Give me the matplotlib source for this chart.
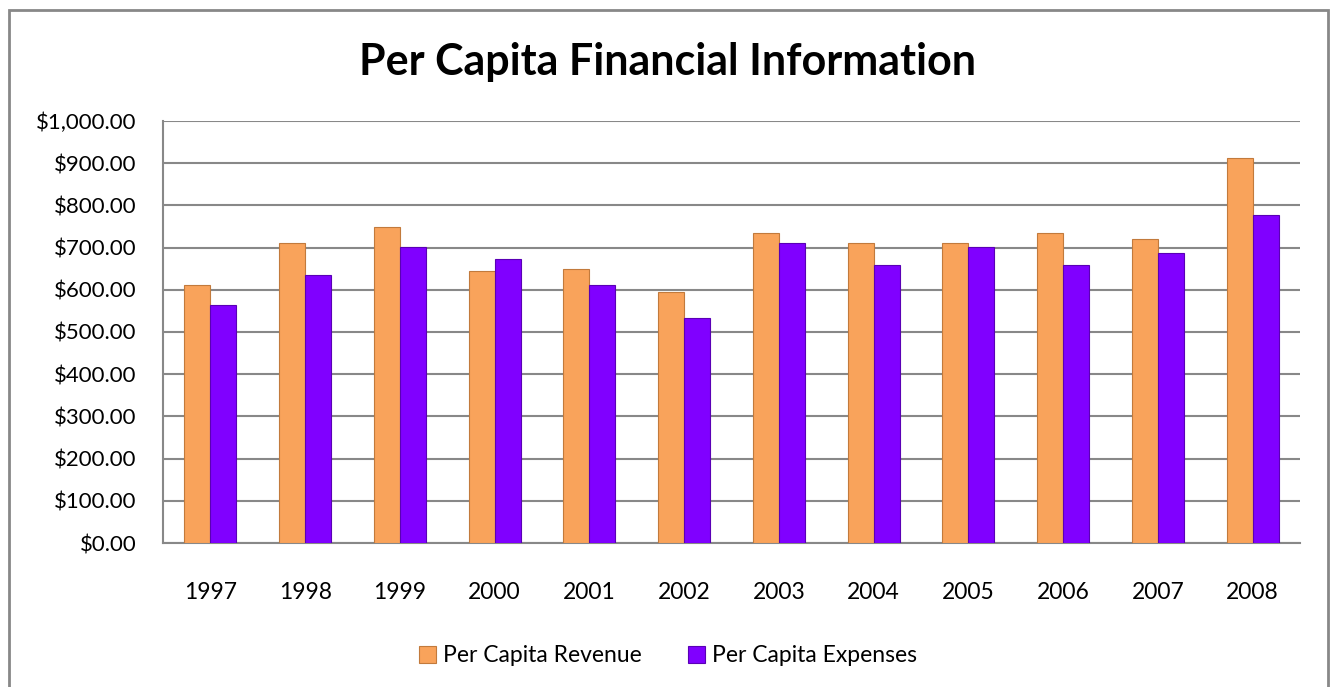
"""Per capita revenue vs expenses, 1997-2008 (grouped bars)."""

import matplotlib
matplotlib.use("Agg")
import matplotlib.pyplot as plt
import numpy as np
from matplotlib.patches import Rectangle
from matplotlib.ticker import FuncFormatter

years = ["1997", "1998", "1999", "2000", "2001", "2002",
         "2003", "2004", "2005", "2006", "2007", "2008"]
revenue = [611, 710, 749, 644, 649, 595, 734, 710, 710, 734, 721, 912]
expenses = [563, 635, 702, 673, 611, 533, 711, 659, 702, 659, 687, 778]

ORANGE = "#F9A35B"
ORANGE_EDGE = "#C27A3C"
PURPLE = "#8000FF"
PURPLE_EDGE = "#5A00B5"
GRID = "#888888"

plt.rcParams["font.family"] = ["Lato", "DejaVu Sans"]

fig = plt.figure(figsize=(13.35, 6.87), dpi=100)
ax = fig.add_axes([163 / 1335, 1 - 543 / 687, (1300 - 163) / 1335, (543 - 121) / 687])

x = np.arange(len(years))
w = 0.275
ax.bar(x - w / 2, revenue, w, color=ORANGE, edgecolor=ORANGE_EDGE,
       linewidth=0.8, label="Per Capita Revenue", zorder=3)
ax.bar(x + w / 2, expenses, w, color=PURPLE, edgecolor=PURPLE_EDGE,
       linewidth=0.8, label="Per Capita Expenses", zorder=3)

ax.set_xlim(-0.5, len(years) - 0.5)
ax.set_ylim(0, 1000)
ax.set_yticks(np.arange(0, 1001, 100))
ax.yaxis.set_major_formatter(FuncFormatter(lambda v, _: f"${v:,.2f}"))
ax.set_xticks(x)
ax.set_xticklabels(years)
ax.tick_params(axis="both", length=0)
ax.tick_params(axis="y", pad=19, labelsize=16)
ax.tick_params(axis="x", pad=28, labelsize=16.5)

ax.grid(axis="y", color=GRID, linewidth=1.5, zorder=0)
for side in ("top", "right"):
    ax.spines[side].set_visible(False)
for side in ("left", "bottom"):
    ax.spines[side].set_color(GRID)
    ax.spines[side].set_linewidth(1.5)

fig.text(0.5, 1 - 62 / 687, "Per Capita Financial Information",
         ha="center", va="center", fontsize=31, fontweight="bold")

fig.legend(loc="center", bbox_to_anchor=(668 / 1335, 1 - 656 / 687), ncol=2,
           frameon=False, fontsize=16.5, handlelength=0.75, handleheight=0.75,
           handletextpad=0.3, columnspacing=2.0)

# outer chart border
fig.patches.append(Rectangle((9 / 1335, -0.05), (1328 - 9) / 1335, 1.05 - 10 / 687,
                             transform=fig.transFigure, fill=False,
                             edgecolor=GRID, linewidth=2))

fig.savefig("out.png", dpi=100)
